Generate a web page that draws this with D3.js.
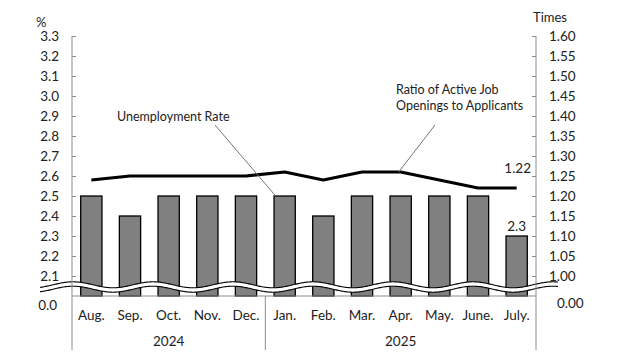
<!DOCTYPE html>
<html>
<head>
<meta charset="utf-8">
<script src="https://cdn.jsdelivr.net/npm/d3@7"></script>
<style>
  body { margin: 0; background: #fff; }
  svg text { font-family: Lato, "Open Sans", sans-serif; fill: #222; }
</style>
</head>
<body>
<div id="chart"></div>
<script>
// data
var months = ['Aug.', 'Sep.', 'Oct.', 'Nov.', 'Dec.', 'Jan.', 'Feb.', 'Mar.', 'Apr.', 'May.', 'June.', 'July.'];
var years = [{label: '2024', from: 0, to: 5}, {label: '2025', from: 5, to: 12}];
var unemployment = [2.5, 2.4, 2.5, 2.5, 2.5, 2.5, 2.4, 2.5, 2.5, 2.5, 2.5, 2.3];
var jobRatio = [1.24, 1.25, 1.25, 1.25, 1.25, 1.26, 1.24, 1.26, 1.26, 1.24, 1.22, 1.22];
var leftTicks = [2.1, 2.2, 2.3, 2.4, 2.5, 2.6, 2.7, 2.8, 2.9, 3.0, 3.1, 3.2, 3.3];
var rightTicks = [1.00, 1.05, 1.10, 1.15, 1.20, 1.25, 1.30, 1.35, 1.40, 1.45, 1.50, 1.55, 1.60];

var width = 629, height = 362,
    plot = {left: 72, right: 536, top: 36, bottom: 296, axisFoot: 350};

var svg = d3.select('#chart').append('svg')
    .attr('width', width).attr('height', height);

var x = d3.scaleBand().domain(months)
    .range([plot.left, plot.right])
    .paddingInner(0.45).paddingOuter(0.225);

// broken axes: bottom of the plot stands for 0 but the scale starts at 2.0 / 0.95
var yL = d3.scaleLinear().domain([2.0, 3.3]).range([plot.bottom, plot.top]);
var yR = d3.scaleLinear().domain([0.95, 1.60]).range([plot.bottom, plot.top]);

var mid = (d, i) => x(months[i]) + x.bandwidth() / 2;

// bars
svg.append('g').selectAll('rect')
  .data(unemployment)
  .enter().append('rect')
    .attr('x', (d, i) => x(months[i]))
    .attr('y', d => yL(d))
    .attr('width', x.bandwidth())
    .attr('height', d => plot.bottom - yL(d))
    .attr('fill', '#808080')
    .attr('stroke', '#000')
    .attr('stroke-width', 1.3);

// wave that marks the axis break
var waveY = yL(2.045), amp = 3, period = 80, gap = 2.2;
var waveAt = px => waveY - amp * Math.sin((px - 53) / period * 2 * Math.PI);
function wavePath(off) {
  return d3.line()(d3.range(40, 559, 1).map(px => [px, waveAt(px) + off]));
}
var band = d3.range(40, 559, 1).map(px => [px, waveAt(px) - gap])
  .concat(d3.range(558, 39, -1).map(px => [px, waveAt(px) + gap]));
svg.append('path').attr('d', d3.line()(band) + 'Z').attr('fill', '#fff');
[-gap, gap].forEach(off => {
  svg.append('path').attr('d', wavePath(off))
    .attr('fill', 'none').attr('stroke', '#000').attr('stroke-width', 1.1);
});

// ratio line
svg.append('path')
  .datum(jobRatio)
  .attr('d', d3.line().x(mid).y(d => yR(d)))
  .attr('fill', 'none').attr('stroke', '#000').attr('stroke-width', 3.2)
  .attr('stroke-linejoin', 'round');

// axes
var axisColor = '#8c8c8c';
var left = svg.append('g').attr('transform', `translate(${plot.left},0)`)
  .call(d3.axisRight(yL).tickValues(leftTicks).tickSize(4).tickFormat(''));
var right = svg.append('g').attr('transform', `translate(${plot.right},0)`)
  .call(d3.axisLeft(yR).tickValues(rightTicks).tickSize(4).tickFormat(''));
[left, right].forEach(g => {
  g.select('.domain').remove();
  g.selectAll('line').attr('stroke', axisColor);
});

var grid = svg.append('g').attr('stroke', axisColor).attr('stroke-width', 1);
grid.append('line').attr('x1', plot.left).attr('x2', plot.left).attr('y1', plot.top).attr('y2', plot.axisFoot);
grid.append('line').attr('x1', plot.right).attr('x2', plot.right).attr('y1', plot.top).attr('y2', plot.axisFoot);
grid.append('line').attr('x1', plot.left).attr('x2', plot.right).attr('y1', plot.bottom).attr('y2', plot.bottom);
grid.append('line').attr('x1', x.step() * 5 + plot.left).attr('x2', x.step() * 5 + plot.left)
  .attr('y1', plot.bottom).attr('y2', plot.axisFoot);

// tick labels
svg.append('g').selectAll('text').data(leftTicks).enter().append('text')
  .attr('x', 59).attr('y', d => yL(d)).attr('dy', '0.35em')
  .attr('text-anchor', 'end').attr('font-size', 13.5)
  .text(d => d.toFixed(1));
svg.append('text').attr('x', 57).attr('y', 305).attr('dy', '0.35em')
  .attr('text-anchor', 'end').attr('font-size', 13.5).text('0.0');

svg.append('g').selectAll('text').data(rightTicks).enter().append('text')
  .attr('x', 549).attr('y', d => yR(d)).attr('dy', '0.35em')
  .attr('font-size', 13.5)
  .text(d => d.toFixed(2));
svg.append('text').attr('x', 557).attr('y', 303).attr('dy', '0.35em')
  .attr('font-size', 13.5).text('0.00');

svg.append('text').attr('x', 36).attr('y', 22).attr('dy', '0.35em').attr('font-size', 13).text('%');
svg.append('text').attr('x', 533).attr('y', 17).attr('dy', '0.35em').attr('font-size', 13).text('Times');

// month and year labels
svg.append('g').selectAll('text').data(months).enter().append('text')
  .attr('x', (d, i) => mid(d, i)).attr('y', 315).attr('dy', '0.35em')
  .attr('text-anchor', 'middle').attr('font-size', 13.5)
  .text(d => d);
svg.append('g').selectAll('text').data(years).enter().append('text')
  .attr('x', d => plot.left + x.step() * (d.from + d.to) / 2).attr('y', 341).attr('dy', '0.35em')
  .attr('text-anchor', 'middle').attr('font-size', 13.5)
  .text(d => d.label);

// value labels for the last month
var last = months.length - 1;
svg.append('text').attr('x', mid(null, last)).attr('y', yL(unemployment[last]) - 10).attr('dy', '0.35em')
  .attr('text-anchor', 'middle').attr('font-size', 13.5).text(unemployment[last].toFixed(1));
svg.append('text').attr('x', mid(null, last) + 1).attr('y', yR(jobRatio[last]) - 20).attr('dy', '0.35em')
  .attr('text-anchor', 'middle').attr('font-size', 13.5).text(jobRatio[last].toFixed(2));

// series annotations with leader lines
svg.append('text').attr('x', 117).attr('y', 117).attr('dy', '0.35em').attr('font-size', 12.5)
  .text('Unemployment Rate');
svg.append('line').attr('x1', 215).attr('y1', 125)
  .attr('x2', mid(null, 5) - 9).attr('y2', yL(unemployment[5]))
  .attr('stroke', '#777').attr('stroke-width', 1);

svg.append('text').attr('x', 396).attr('y', 90).attr('dy', '0.35em').attr('font-size', 12.5)
  .text('Ratio of Active Job');
svg.append('text').attr('x', 396).attr('y', 106).attr('dy', '0.35em').attr('font-size', 12.5)
  .text('Openings to Applicants');
svg.append('line').attr('x1', 435).attr('y1', 125)
  .attr('x2', mid(null, 8) - 2).attr('y2', yR(jobRatio[8]))
  .attr('stroke', '#777').attr('stroke-width', 1);
</script>
</body>
</html>
